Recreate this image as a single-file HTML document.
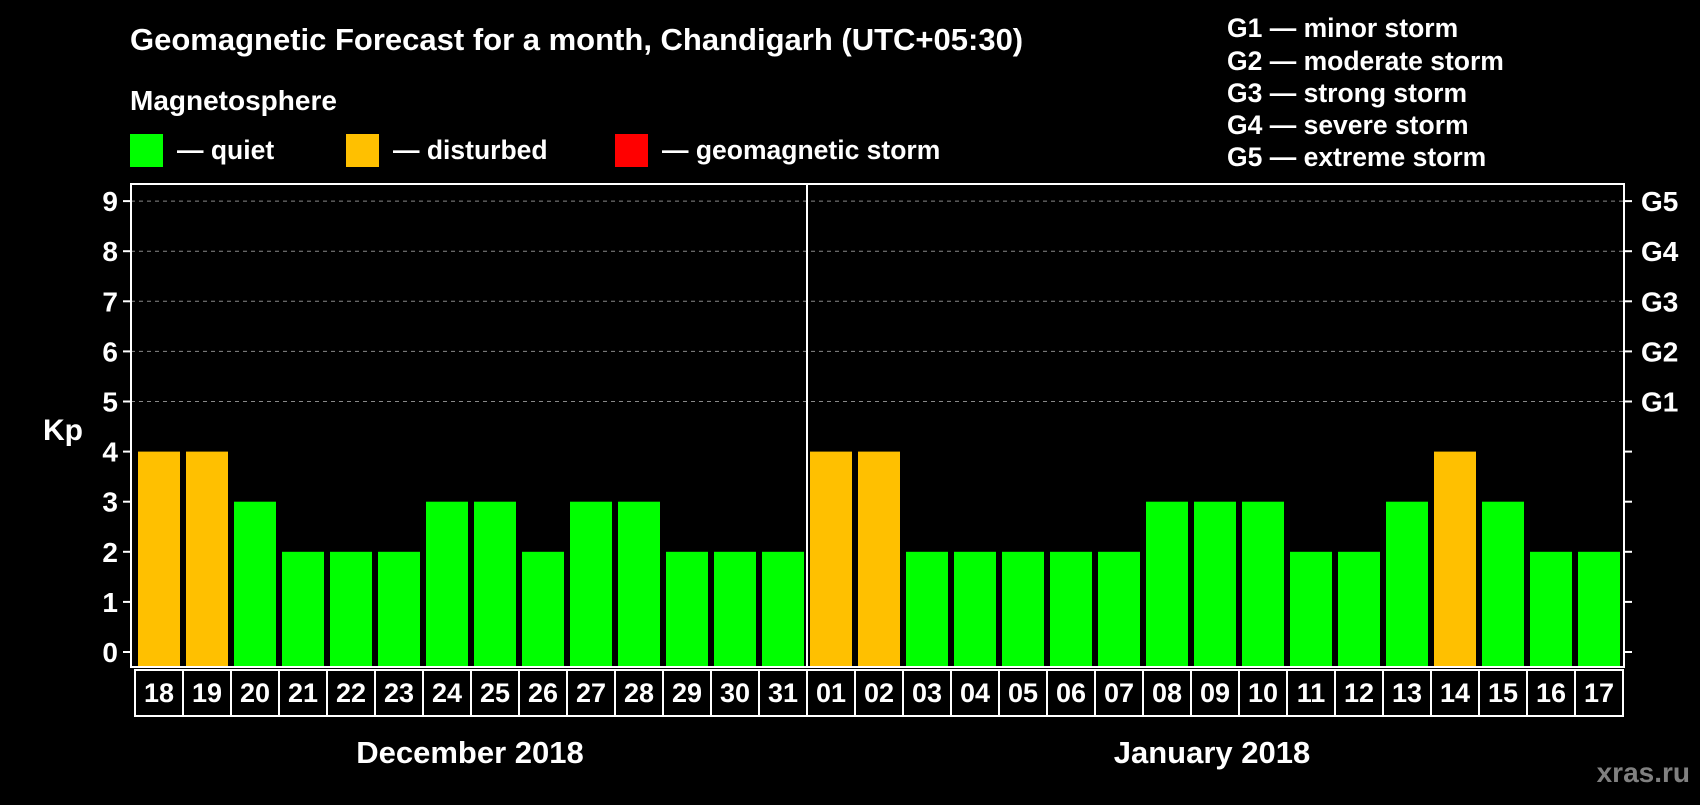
<!DOCTYPE html>
<html><head><meta charset="utf-8"><style>
body{margin:0;background:#000;width:1700px;height:800px;overflow:hidden;font-family:"Liberation Sans",sans-serif;font-weight:bold;color:#fff}
</style></head><body>
<svg width="1700" height="800" style="font-family:'Liberation Sans',sans-serif;font-weight:bold">
<text x="130" y="50" font-size="31" fill="#fff">Geomagnetic Forecast for a month, Chandigarh (UTC+05:30)</text>
<text x="130" y="110" font-size="28" fill="#fff">Magnetosphere</text>
<rect x="130" y="134" width="33" height="33" fill="#00ff00"/>
<text x="177" y="159" font-size="26.5" fill="#fff">— quiet</text>
<rect x="346" y="134" width="33" height="33" fill="#ffc000"/>
<text x="393" y="159" font-size="26.5" fill="#fff">— disturbed</text>
<rect x="615" y="134" width="33" height="33" fill="#ff0000"/>
<text x="662" y="159" font-size="26.5" fill="#fff">— geomagnetic storm</text>
<g font-size="26.5" fill="#fff">
<text x="1227" y="37">G1 — minor storm</text>
<text x="1227" y="70">G2 — moderate storm</text>
<text x="1227" y="102">G3 — strong storm</text>
<text x="1227" y="134">G4 — severe storm</text>
<text x="1227" y="166">G5 — extreme storm</text>
</g>
<text x="63" y="440" font-size="30" fill="#fff" text-anchor="middle">Kp</text>
<g id="plot"></g>
<text x="470" y="763" font-size="31" fill="#fff" text-anchor="middle">December 2018</text>
<text x="1212" y="763" font-size="31" fill="#fff" text-anchor="middle">January 2018</text>
<text x="1690" y="782" font-size="28" fill="#808080" text-anchor="end">xras.ru</text>
</svg>
<script>
const days=["18","19","20","21","22","23","24","25","26","27","28","29","30","31","01","02","03","04","05","06","07","08","09","10","11","12","13","14","15","16","17"];
const kp=[4,4,3,2,2,2,3,3,2,3,3,2,2,2,4,4,2,2,2,2,2,3,3,3,2,2,3,4,3,2,2];
const yTicks=[0,1,2,3,4,5,6,7,8,9];
const gLabels=["G1","G2","G3","G4","G5"];
const gLevels=[5,6,7,8,9];
const NS="http://www.w3.org/2000/svg";
const g=document.getElementById('plot');
const L=131,R=1624,T=184,B=667,y0=652,unit=50.1,x0=138,step=48,bw=42;
const y=v=>y0-v*unit;
const x=i=>x0+i*step;
function mk(t,a){const e=document.createElementNS(NS,t);for(const k in a)e.setAttribute(k,a[k]);g.appendChild(e);return e;}
yTicks.forEach(v=>{
 if(v>=5){const l=mk('line',{x1:L,x2:R,y1:y(v),y2:y(v),stroke:'#888','stroke-dasharray':'4,4','stroke-width':1});
 }
 const t1=mk('line',{x1:L-8,x2:L,y1:y(v),y2:y(v),stroke:'#fff','stroke-width':2});
 
 const t2=mk('line',{x1:R,x2:R+8,y1:y(v),y2:y(v),stroke:'#fff','stroke-width':2});
 
 const tx=mk('text',{x:L-13,y:y(v)+10,'font-size':28,fill:'#fff','text-anchor':'end'});tx.textContent=v;
 
});
gLabels.forEach((s,i)=>{const t=mk('text',{x:R+17,y:y(gLevels[i])+10,'font-size':28,fill:'#fff'});t.textContent=s;
 });
kp.forEach((v,i)=>{
 const c=v>=5?'#ff0000':(v>=4?'#ffc000':'#00ff00');
 const r=mk('rect',{x:x(i),y:y(v),width:bw,height:B-y(v),fill:c});
 
 const bx=mk('rect',{x:x(i)-3,y:B+3,width:step,height:46,fill:'none',stroke:'#fff','stroke-width':2});
 
 const t=mk('text',{x:x(i)+bw/2,y:B+35,'font-size':27,fill:'#fff','text-anchor':'middle'});t.textContent=days[i];
 
});
const fr=mk('rect',{x:L,y:T,width:R-L,height:B-T,fill:'none',stroke:'#fff','stroke-width':2});

const di=days.indexOf("01");
const dv=mk('line',{x1:x(di)-3,x2:x(di)-3,y1:T,y2:B,stroke:'#fff','stroke-width':2});

</script>
</body></html>
